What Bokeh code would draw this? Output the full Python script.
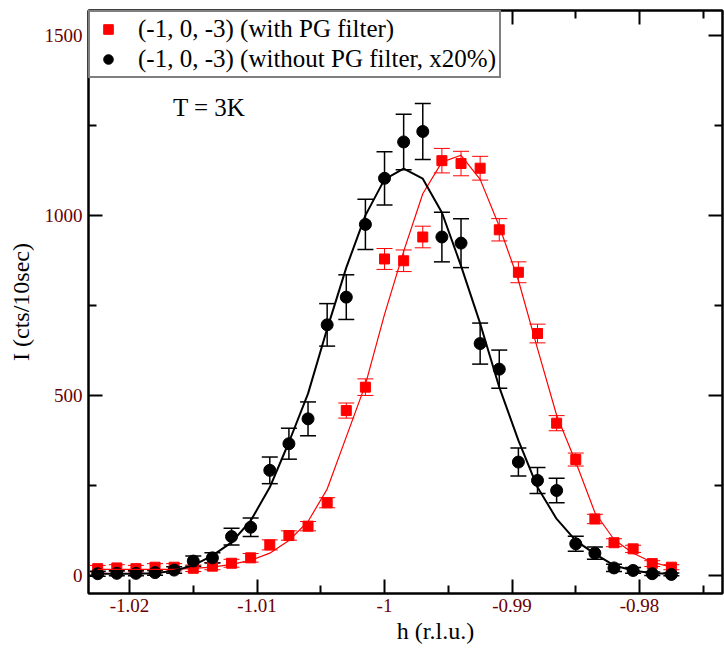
from bokeh.plotting import figure
from bokeh.models import (ColumnDataSource, Whisker, TeeHead, FixedTicker, LinearAxis,
                          CustomJSTickFormatter, Label, Range1d)
from bokeh.embed import file_html
from bokeh.resources import INLINE

# ---- data ----
h_pts = [-1.0225, -1.0210, -1.0195, -1.0180, -1.0165, -1.0150, -1.0135, -1.0120,
         -1.0105, -1.0090, -1.0075, -1.0060, -1.0045, -1.0030, -1.0015, -1.0000,
         -0.9985, -0.9970, -0.9955, -0.9940, -0.9925, -0.9910, -0.9895, -0.9880,
         -0.9865, -0.9850, -0.9835, -0.9820, -0.9805, -0.9790, -0.9775]

red_I = [19, 21, 19, 23, 23, 20, 26, 34, 49, 85, 111, 137, 202, 458, 523, 879,
         874, 940, 1152, 1144, 1131, 960, 842, 672, 423, 322, 157, 91, 74, 33, 23]
red_err = [9, 9, 9, 10, 10, 9, 10, 11, 12, 14, 13, 13, 14, 21, 23, 29,
           30, 30, 34, 34, 33, 31, 29, 26, 21, 18, 13, 11, 10, 8, 7]
red_fit = [17, 17, 17, 17, 17, 20, 23, 31, 42, 62, 97, 150, 240, 385, 530, 725,
           900, 1060, 1148, 1167, 1100, 970, 820, 630, 445, 315, 175, 100, 62, 37, 23]

blk_I = [5, 6, 6, 8, 15, 40, 49, 108, 134, 292, 366, 435, 696, 773, 975, 1103,
         1204, 1233, 940, 923, 644, 573, 315, 264, 236, 88, 62, 21, 14, 5, 3]
blk_err = [7, 7, 7, 7, 9, 14, 14, 23, 26, 37, 43, 47, 59, 62, 70, 74,
           77, 78, 69, 68, 57, 53, 39, 36, 34, 21, 17, 10, 8, 5, 4]
blk_fit = [5, 5, 5, 6, 13, 28, 55, 92, 152, 245, 370, 505, 685, 855, 1000, 1100,
           1130, 1102, 1008, 860, 700, 523, 375, 245, 157, 97, 60, 28, 14, 6, 5]

x_ticks = [-1.02, -1.01, -1.0, -0.99, -0.98]
x_tick_labels = ["-1.02", "-1.01", "-1", "-0.99", "-0.98"]
x_minor = [-1.015, -1.005, -0.995, -0.985, -0.975]
y_ticks = [0, 500, 1000, 1500]
y_tick_labels = ["0", "500", "1000", "1500"]
y_minor = [250, 750, 1250]

legend_red = "(-1, 0, -3) (with PG filter)"
legend_blk = "(-1, 0, -3) (without PG filter, x20%)"

FONT = "Liberation Serif"
TICK_COLOR = "#6a0000"
NBSP = "\u00a0"

src_r = ColumnDataSource(dict(x=h_pts, y=red_I, fit=red_fit,
                              lo=[v - e for v, e in zip(red_I, red_err)],
                              hi=[v + e for v, e in zip(red_I, red_err)]))
src_b = ColumnDataSource(dict(x=h_pts, y=blk_I, fit=blk_fit,
                              lo=[v - e for v, e in zip(blk_I, blk_err)],
                              hi=[v + e for v, e in zip(blk_I, blk_err)]))

p = figure(width=724, height=651, output_backend="svg", toolbar_location=None,
           x_range=Range1d(-1.02322, -0.97349), y_range=Range1d(-50, 1569),
           min_border_left=88, min_border_right=2, min_border_top=10, min_border_bottom=58,
           x_axis_label=NBSP * 10 + "h (r.l.u.)", y_axis_label="I (cts/10sec)")
p.grid.visible = False
p.outline_line_color = "black"
p.outline_line_width = 2
p.background_fill_color = "white"
p.border_fill_color = "white"

bottom = p.below[0]
left = p.left[0]

xt = FixedTicker(ticks=x_ticks, minor_ticks=x_minor)
yt = FixedTicker(ticks=y_ticks, minor_ticks=y_minor)
fmt_code = ("var i = tvals.findIndex(function(t) { return Math.abs(t - tick) < 1e-9; });"
            "return i >= 0 ? tlabs[i] : '';")
bottom.ticker = xt
left.ticker = yt
bottom.formatter = CustomJSTickFormatter(args=dict(tvals=x_ticks, tlabs=x_tick_labels), code=fmt_code)
left.formatter = CustomJSTickFormatter(args=dict(tvals=y_ticks, tlabs=y_tick_labels), code=fmt_code)

top = LinearAxis(ticker=xt, formatter=CustomJSTickFormatter(code="return '';"))
right = LinearAxis(ticker=yt, formatter=CustomJSTickFormatter(code="return '';"))
p.add_layout(top, "above")
p.add_layout(right, "right")

for ax in [bottom, left, top, right]:
    ax.axis_line_width = 2
    ax.axis_line_color = "black"
    ax.major_tick_in = 14
    ax.major_tick_out = 0
    ax.minor_tick_in = 8
    ax.minor_tick_out = 0
    ax.major_tick_line_width = 2
    ax.minor_tick_line_width = 2
    ax.major_tick_line_color = "black"
    ax.minor_tick_line_color = "black"
    ax.major_label_text_font = FONT
    ax.major_label_text_font_size = "19px"
    ax.major_label_text_color = TICK_COLOR
    ax.axis_label_text_font = FONT
    ax.axis_label_text_font_size = "24px"
    ax.axis_label_text_font_style = "normal"
    ax.axis_label_text_color = "black"

for ax in [top, right]:
    ax.major_label_standoff = 0
    ax.major_label_text_font_size = "0px"

bottom.major_label_standoff = 5
bottom.axis_label_standoff = 3
left.major_label_standoff = 6
left.axis_label_standoff = 8

# error bars
p.add_layout(Whisker(source=src_r, base="x", upper="hi", lower="lo", dimension="height",
                     line_color="red", line_width=1,
                     upper_head=TeeHead(size=16, line_color="red", line_width=1),
                     lower_head=TeeHead(size=16, line_color="red", line_width=1)))
p.add_layout(Whisker(source=src_b, base="x", upper="hi", lower="lo", dimension="height",
                     line_color="black", line_width=1.5,
                     upper_head=TeeHead(size=16, line_color="black", line_width=1.5),
                     lower_head=TeeHead(size=16, line_color="black", line_width=1.5)))

# markers
p.scatter("x", "y", source=src_r, marker="square", size=10, color="red",
          legend_label=legend_red)
p.scatter("x", "y", source=src_b, marker="circle", size=12, color="black",
          legend_label=legend_blk)

# fitted curves
p.line("x", "fit", source=src_r, line_color="red", line_width=1.2)
p.line("x", "fit", source=src_b, line_color="black", line_width=2)

p.legend.location = "top_left"
p.legend.margin = 0
p.legend.padding = 3
p.legend.spacing = 2
p.legend.glyph_width = 30
p.legend.glyph_height = 24
p.legend.label_height = 24
p.legend.label_standoff = 15
p.legend.label_text_font = FONT
p.legend.label_text_font_size = "25px"
p.legend.label_text_color = "black"
p.legend.border_line_color = "black"
p.legend.border_line_width = 2
p.legend.background_fill_alpha = 1.0

p.add_layout(Label(x=-1.0166, y=1300, text="T = 3K", text_font=FONT,
                   text_font_size="25px", text_baseline="alphabetic", text_color="black"))
p.add_layout(Label(x=-1.00367, y=-160, text="Fig. 4(a)", text_font=FONT,
                   text_font_size="24px", text_baseline="top", text_color="black"))

open("out.html", "w").write(file_html(p, INLINE))
